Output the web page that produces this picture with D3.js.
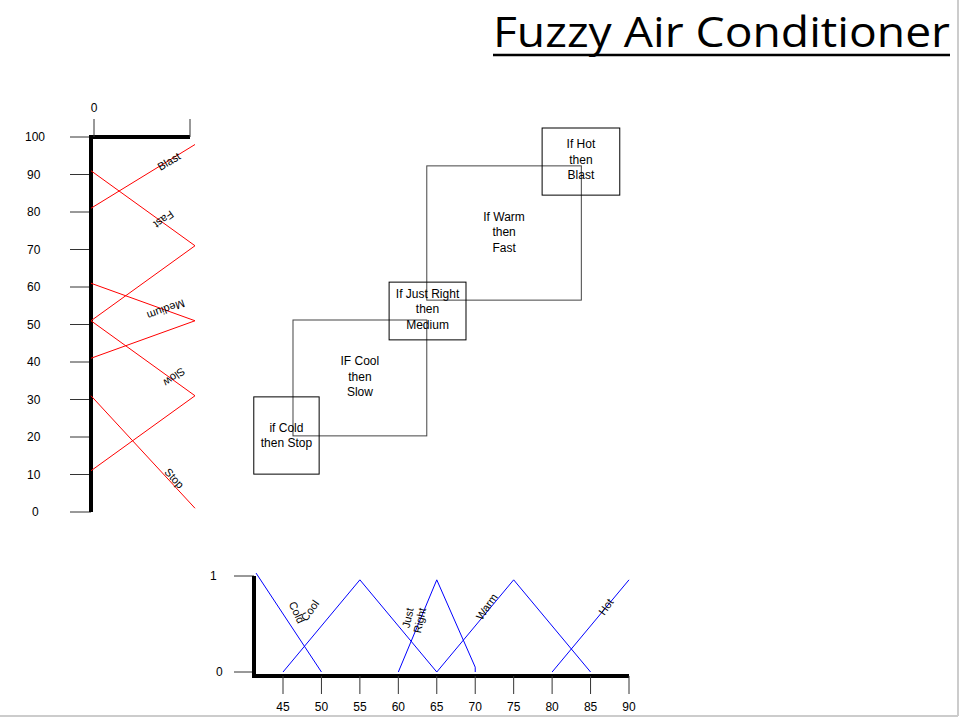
<!DOCTYPE html>
<html><head><meta charset="utf-8">
<script src="https://cdn.jsdelivr.net/npm/d3@7"></script>
<style>body{margin:0;background:#fff}text{font-family:"Liberation Sans",Arial,sans-serif;fill:#000}</style>
</head><body>
<svg width="964" height="722"></svg>
<script>
'use strict';
// speed membership (output), in speed units vs membership 0..1
const speedSets = ["Blast", "Fast", "Medium", "Slow", "Stop"];
const speedPoints = [
  [[0, 81], [1, 98]],
  [[0, 91], [1, 71], [0, 51]],
  [[0, 61], [1, 51], [0, 41]],
  [[0, 51], [1, 31], [0, 11]],
  [[0, 31], [1, 1]]
];
const speedLabelAt = [[0.75, 93.5], [0.7, 78], [0.72, 54], [0.8, 36], [0.8, 9]];
const speedTicks = [0, 10, 20, 30, 40, 50, 60, 70, 80, 90, 100];

// temperature membership (input)
const tempSets = ["Cold", "Cool", "Just\nRight", "Warm", "Hot"];
const tempPoints = [
  [[41.5, 1.03], [50, 0]],
  [[45, 0], [55, 0.96], [65, 0]],
  [[60, 0], [65, 0.96], [70, 0.05], [70, 0]],
  [[65, 0], [75, 0.96], [85, 0]],
  [[80, 0], [90, 0.96]]
];
const tempLabelAt = [[46.8, 0.62, 65], [48.5, 0.64, -55], [62, 0.55, -78], [71.5, 0.68, -55], [87, 0.68, -55]];
const tempTicks = [45, 50, 55, 60, 65, 70, 75, 80, 85, 90];

// rules: [temp0, temp1, speed0, speed1]
const ruleBoxes = [[41.2, 49.7, 10.1, 30.7], [58.8, 68.8, 45.9, 61.3], [78.7, 88.8, 84.5, 102.4]];
const ruleBoxText = [["if Cold", "then Stop"], ["If Just Right", "then", "Medium"], ["If Hot", "then", "Blast"]];
const ruleSpans = [[46.3, 63.7, 20.3, 51.2], [63.7, 83.8, 56.5, 92.3]];
const ruleSpanText = [["IF Cool", "then", "Slow"], ["If Warm", "then", "Fast"]];

const svg = d3.select("svg");
svg.append("line").attr("x1", 958).attr("x2", 958).attr("y1", 0).attr("y2", 716).attr("stroke", "#ccc").attr("stroke-width", 2);
svg.append("line").attr("x1", 0).attr("x2", 958).attr("y1", 716).attr("y2", 716).attr("stroke", "#ccc").attr("stroke-width", 2);

const title = svg.append("text").attr("x", 950).attr("y", 47).attr("text-anchor", "end")
  .style("font-family", "'Open Sans',sans-serif").style("font-size", "42px").text("Fuzzy Air Conditioner");
const tb = title.node().getBBox();
title.attr("textLength", 457).attr("lengthAdjust", "spacingAndGlyphs").attr("x", 950);
svg.append("line").attr("x1", 493).attr("x2", 950).attr("y1", 55).attr("y2", 55).attr("stroke", "#000").attr("stroke-width", 2.5);

const sy = d3.scaleLinear().domain([0, 100]).range([512, 137]);
const sm = d3.scaleLinear().domain([0, 1]).range([91, 195]);
const tx = d3.scaleLinear().domain([45, 90]).range([283, 629]);
const ty = d3.scaleLinear().domain([0, 1]).range([672, 576]);

// ---- speed chart
const gs = svg.append("g");
gs.selectAll(".st").data(speedTicks).enter().append("g").each(function(d) {
  const g = d3.select(this);
  g.append("line").attr("x1", 70).attr("x2", 91).attr("y1", sy(d)).attr("y2", sy(d)).attr("stroke", "#333");
  g.append("text").attr("x", d === 0 ? 32 : d === 100 ? 25 : 27).attr("y", sy(d) + 4).style("font-size", "12px").text(d);
});
gs.append("line").attr("x1", sm(0)).attr("x2", sm(0)).attr("y1", sy(0)).attr("y2", sy(100) - 2).attr("stroke", "#000").attr("stroke-width", 4);
gs.append("line").attr("x1", sm(0) - 2).attr("x2", 190).attr("y1", sy(100)).attr("y2", sy(100)).attr("stroke", "#000").attr("stroke-width", 4);
[94, 190].forEach(x => gs.append("line").attr("x1", x).attr("x2", x).attr("y1", sy(100)).attr("y2", 119).attr("stroke", "#333"));
gs.append("text").attr("x", 94).attr("y", 112).attr("text-anchor", "middle").style("font-size", "12px").text("0");
const sline = d3.line().x(d => sm(d[0])).y(d => sy(d[1]));
speedPoints.forEach((p, i) => {
  gs.append("path").attr("d", sline(p)).attr("fill", "none").attr("stroke", "#f00");
  const [a, b] = [p[p.length - 2], p[p.length - 1]];
  const ang = Math.atan2(sy(b[1]) - sy(a[1]), sm(b[0]) - sm(a[0])) * 180 / Math.PI;
  const [lx, ly] = speedLabelAt[i];
  gs.append("text").attr("transform", `translate(${sm(lx)},${sy(ly)}) rotate(${ang})`)
    .attr("text-anchor", "middle").attr("dy", "0.35em").style("font-size", "11px").text(speedSets[i]);
});

// ---- temperature chart
const gt = svg.append("g");
gt.append("line").attr("x1", 234).attr("x2", 254).attr("y1", ty(1)).attr("y2", ty(1)).attr("stroke", "#333");
gt.append("line").attr("x1", 234).attr("x2", 254).attr("y1", ty(0)).attr("y2", ty(0)).attr("stroke", "#333");
gt.append("text").attr("x", 210).attr("y", ty(1) + 4).style("font-size", "12px").text("1");
gt.append("text").attr("x", 216).attr("y", ty(0) + 4).style("font-size", "12px").text("0");
gt.append("line").attr("x1", 254).attr("x2", 254).attr("y1", ty(1)).attr("y2", 678).attr("stroke", "#000").attr("stroke-width", 4);
gt.append("line").attr("x1", 252).attr("x2", tx(90)).attr("y1", 676).attr("y2", 676).attr("stroke", "#000").attr("stroke-width", 4);
tempTicks.forEach(t => {
  gt.append("line").attr("x1", tx(t)).attr("x2", tx(t)).attr("y1", 676).attr("y2", 694).attr("stroke", "#333");
  gt.append("text").attr("x", tx(t)).attr("y", 711).attr("text-anchor", "middle").style("font-size", "12px").text(t);
});
const tline = d3.line().x(d => tx(d[0])).y(d => ty(d[1]));
tempPoints.forEach((p, i) => {
  gt.append("path").attr("d", tline(p)).attr("fill", "none").attr("stroke", "#00f");
  const [lx, ly, ang] = tempLabelAt[i];
  const lines = tempSets[i].split("\n");
  const t = gt.append("text").attr("transform", `translate(${tx(lx)},${ty(ly)}) rotate(${ang})`)
    .attr("text-anchor", "middle").style("font-size", "11px");
  lines.forEach((s, j) => t.append("tspan").attr("x", 0).attr("dy", j === 0 ? (lines.length > 1 ? "-0.2em" : "0.35em") : "1.1em").text(s));
});

// ---- rules
const gr = svg.append("g");
function rect(b) {
  return gr.append("rect").attr("x", tx(b[0])).attr("y", sy(b[3])).attr("width", tx(b[1]) - tx(b[0]))
    .attr("height", sy(b[2]) - sy(b[3])).attr("fill", "none").attr("stroke", "#000").attr("stroke-width", 1);
}
function label(b, lines, dy) {
  const cx = (tx(b[0]) + tx(b[1])) / 2, cy = (sy(b[2]) + sy(b[3])) / 2 + dy;
  const t = gr.append("text").attr("text-anchor", "middle").style("font-size", "12px");
  lines.forEach((s, j) => t.append("tspan").attr("x", cx).attr("y", cy + (j - (lines.length - 1) / 2) * 15.5 + 4).text(s));
}
ruleSpans.forEach((b, i) => { rect(b).attr("stroke", "#444"); label(b, ruleSpanText[i], -1); });
ruleBoxes.forEach((b, i) => { rect(b); label(b, ruleBoxText[i], i === 0 ? 0 : -2); });
</script>
</body></html>
